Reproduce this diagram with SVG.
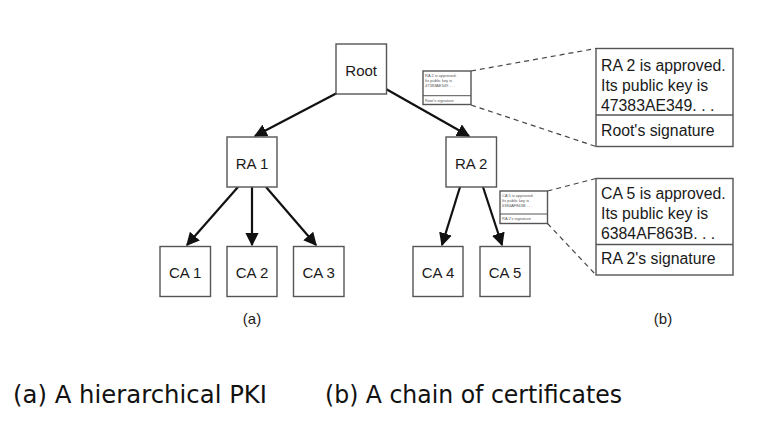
<svg xmlns="http://www.w3.org/2000/svg" width="768" height="443" viewBox="0 0 768 443">
<style>
.box{fill:#fff;stroke:#555;stroke-width:1.4}
.lbl{font-family:"Liberation Sans",Arial,sans-serif;font-size:15px;fill:#1a1a1a;text-anchor:middle;dominant-baseline:central}
.edge{stroke:#111;stroke-width:2.2;fill:none;marker-end:url(#ah)}
.dash{stroke:#444;stroke-width:1.2;stroke-dasharray:5,4;fill:none}
.big{font-family:"Liberation Sans",Arial,sans-serif;font-size:15.8px;fill:#1a1a1a}
.tiny{font-family:"Liberation Sans",Arial,sans-serif;font-size:4px;fill:#555}
.cap{font-family:"DejaVu Sans","Liberation Sans",sans-serif;font-size:24px;fill:#111}
</style>
<defs>
<marker id="ah" viewBox="0 0 10 10" refX="9" refY="5" markerWidth="6" markerHeight="6" orient="auto" markerUnits="strokeWidth">
<path d="M0,0 L10,5 L0,10 Z" fill="#111"/>
</marker>
</defs>
<rect width="768" height="443" fill="#fff"/>
<g id="connectors">
<line class="edge" x1="337" y1="93" x2="255" y2="136"/>
<line class="edge" x1="386" y1="89" x2="469" y2="136"/>
<line class="edge" x1="238" y1="187" x2="187" y2="245"/>
<line class="edge" x1="252" y1="187" x2="252" y2="245"/>
<line class="edge" x1="266" y1="187" x2="316" y2="245"/>
<line class="edge" x1="460" y1="187" x2="442" y2="245"/>
<line class="edge" x1="483" y1="187" x2="502" y2="245"/>
<line class="dash" x1="471" y1="71" x2="596" y2="48.5"/>
<line class="dash" x1="471" y1="105" x2="596" y2="146.5"/>
<line class="dash" x1="547.5" y1="191" x2="596" y2="178.5"/>
<line class="dash" x1="547.5" y1="223.5" x2="596" y2="275"/>
</g>
<g id="root"><rect class="box" x="336" y="44" width="50.5" height="50"/><text class="lbl" x="361.2" y="70">Root</text></g>
<g id="ra1"><rect class="box" x="227" y="137" width="50" height="50"/><text class="lbl" x="252" y="163">RA 1</text></g>
<g id="ra2"><rect class="box" x="446" y="137" width="50.5" height="50"/><text class="lbl" x="471.2" y="163">RA 2</text></g>
<g id="ca1"><rect class="box" x="160" y="246.5" width="50.5" height="50"/><text class="lbl" x="185.2" y="272">CA 1</text></g>
<g id="ca2"><rect class="box" x="227" y="246.5" width="50" height="50"/><text class="lbl" x="252" y="272">CA 2</text></g>
<g id="ca3"><rect class="box" x="293.5" y="246.5" width="50.5" height="50"/><text class="lbl" x="318.7" y="272">CA 3</text></g>
<g id="ca4"><rect class="box" x="413" y="246.5" width="50" height="50"/><text class="lbl" x="438" y="272">CA 4</text></g>
<g id="ca5"><rect class="box" x="480" y="246.5" width="50" height="50"/><text class="lbl" x="505" y="272">CA 5</text></g>
<g id="cert1-small">
<rect class="box" x="423" y="71" width="48" height="33.5" stroke-width="1"/>
<line x1="423" y1="95.7" x2="471" y2="95.7" stroke="#555" stroke-width="1"/>
<text class="tiny" x="425" y="77">RA 2 is approved.</text>
<text class="tiny" x="425" y="82">Its public key is</text>
<text class="tiny" x="425" y="87">47383AE349 . . .</text>
<text class="tiny" x="425" y="101.5">Root's signature</text>
</g>
<g id="cert1-big">
<rect class="box" x="596" y="48.5" width="137" height="98"/>
<line x1="596" y1="115" x2="733" y2="115" stroke="#555" stroke-width="1.4"/>
<text class="big" x="601" y="71">RA 2 is approved.</text>
<text class="big" x="601" y="91">Its public key is</text>
<text class="big" x="601" y="111">47383AE349. . .</text>
<text class="big" x="601" y="136">Root's signature</text>
</g>
<g id="cert2-small">
<rect class="box" x="500" y="191" width="47.5" height="32.5" stroke-width="1"/>
<line x1="500" y1="214" x2="547.5" y2="214" stroke="#555" stroke-width="1"/>
<text class="tiny" x="502" y="197">CA 5 is approved.</text>
<text class="tiny" x="502" y="202">Its public key is</text>
<text class="tiny" x="502" y="207">6384AF863B . . .</text>
<text class="tiny" x="502" y="220">RA 2's signature</text>
</g>
<g id="cert2-big">
<rect class="box" x="596" y="178.5" width="137" height="96.5"/>
<line x1="596" y1="244.5" x2="733" y2="244.5" stroke="#555" stroke-width="1.4"/>
<text class="big" x="601" y="199">CA 5 is approved.</text>
<text class="big" x="601" y="219">Its public key is</text>
<text class="big" x="601" y="239">6384AF863B. . .</text>
<text class="big" x="601" y="264">RA 2's signature</text>
</g>
<text class="lbl" x="252" y="318" font-size="12">(a)</text>
<text class="lbl" x="663" y="318" font-size="12">(b)</text>
<text class="cap" x="13" y="403" textLength="254" lengthAdjust="spacingAndGlyphs">(a) A hierarchical PKI</text>
<text class="cap" x="325" y="403" textLength="297" lengthAdjust="spacingAndGlyphs">(b) A chain of certificates</text>
</svg>
